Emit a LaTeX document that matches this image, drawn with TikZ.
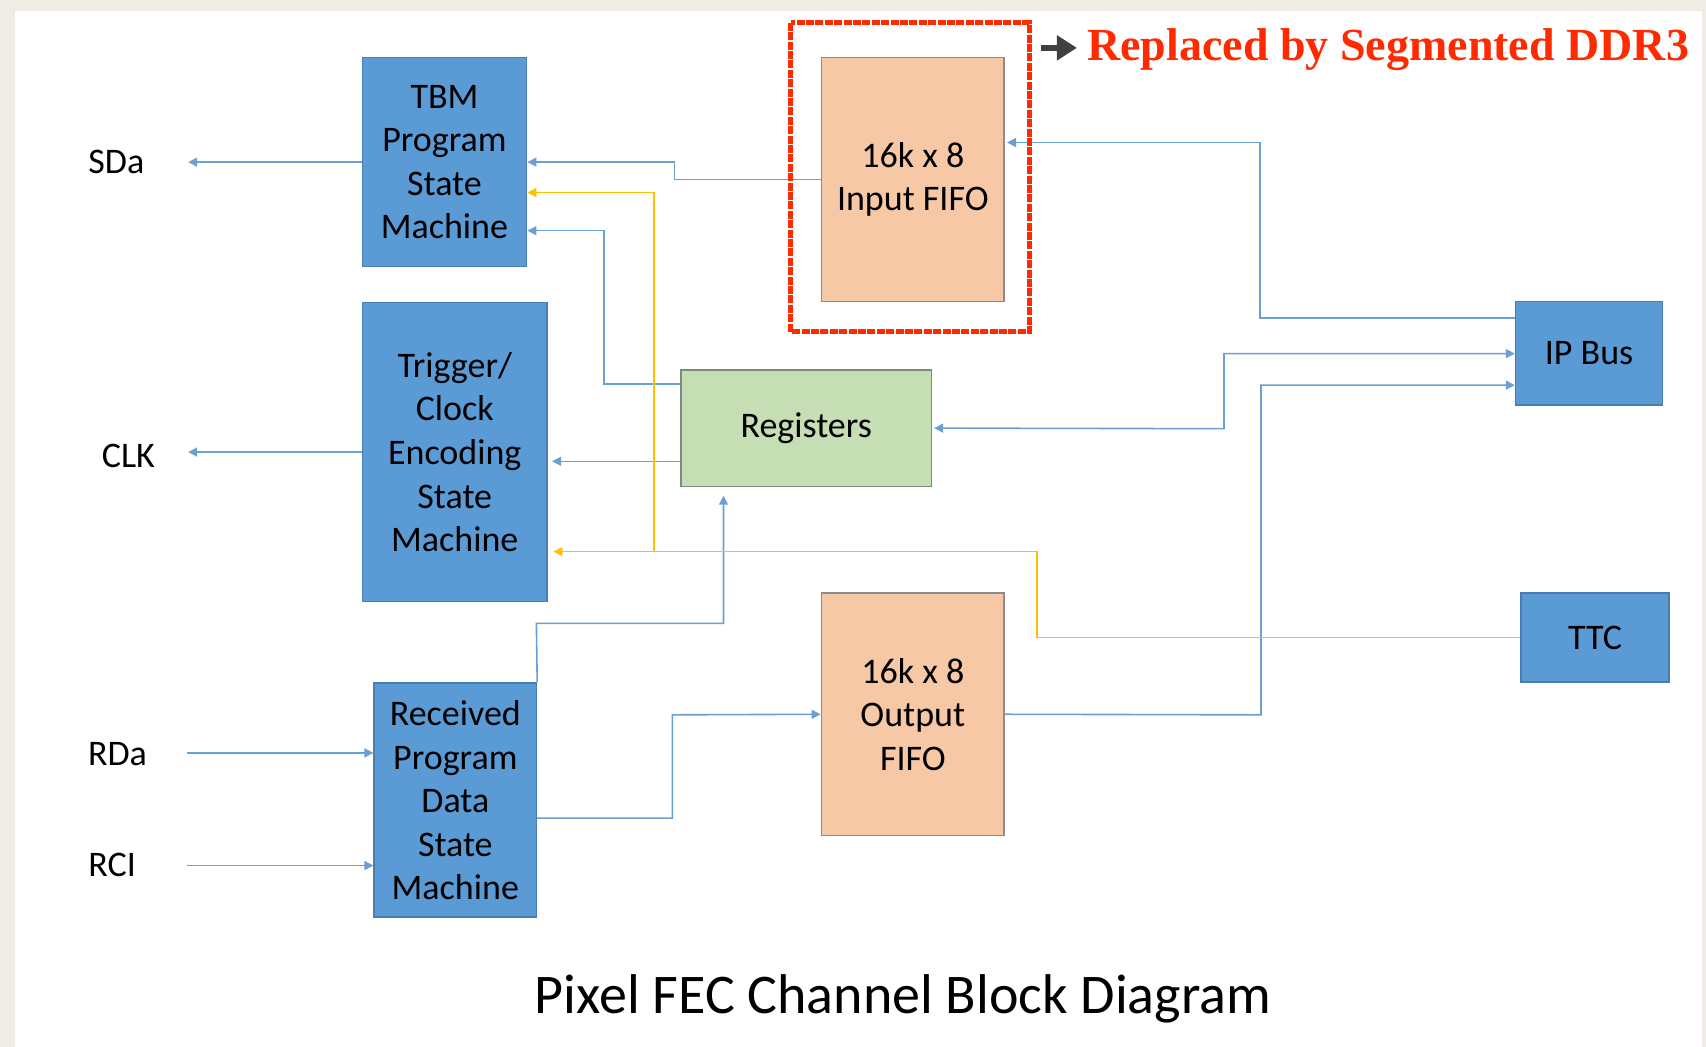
\documentclass[tikz,border=0pt]{standalone}
\usepackage{fontspec}
\setmainfont{Carlito}
\newfontfamily\notefont{Liberation Serif}
\usetikzlibrary{arrows.meta}

\definecolor{pagebg}{HTML}{EFECE6}
\definecolor{blockblue}{HTML}{5B9BD5}
\definecolor{blockblueedge}{HTML}{4A7EB0}
\definecolor{fifofill}{HTML}{F6C8A6}
\definecolor{fifoedge}{HTML}{8C8C8C}
\definecolor{regfill}{HTML}{C5DEB3}
\definecolor{regedge}{HTML}{7C8C7C}
\definecolor{wireblue}{HTML}{6A9FD4}
\definecolor{wireyellow}{HTML}{FFC000}
\definecolor{notered}{HTML}{FF2A00}
\definecolor{notegray}{HTML}{404040}

\begin{document}
\begin{tikzpicture}[x=0.544pt, y=-0.544pt,
  boxsize/.style 2 args={minimum width=#1*0.544pt, minimum height=#2*0.544pt},
  blocktext/.style={font=\fontsize{18}{21.8}\selectfont, align=center, text=black, inner sep=0pt},
  smblock/.style={blocktext, rectangle, fill=blockblue, draw=blockblueedge, line width=0.8pt},
  fifoblock/.style={blocktext, rectangle, fill=fifofill, draw=fifoedge, line width=0.8pt},
  regblock/.style={blocktext, rectangle, fill=regfill, draw=regedge, line width=0.8pt},
  portlabel/.style={font=\fontsize{18}{21.8}\selectfont, text=black, inner sep=0pt},
  tip/.style={-{Triangle[length=4.5pt,width=4.5pt]}},
  bitip/.style={{Triangle[length=4.5pt,width=4.5pt]}-{Triangle[length=4.5pt,width=4.5pt]}},
  wire/.style={draw=wireblue, line width=0.8pt, fill=none},
  ywire/.style={draw=wireyellow, line width=0.8pt, fill=none},
]

% page frame
\fill[pagebg] (0,0) rectangle (1568,962);
\fill[white] (14,10) rectangle (1564,962);
\useasboundingbox (0,0) rectangle (1568,962);

% blocks
\node[smblock, boxsize={151}{192}] (tbm) at (408.5,149) {TBM\\Program\\State\\Machine};
\node[fifoblock, boxsize={168}{224}] (fifoin) at (839,165) {16k x 8\\Input FIFO};
\node[smblock, boxsize={170}{275}] (trig) at (418,415.5) {Trigger/\\Clock\\Encoding\\State\\Machine};
\node[regblock, boxsize={230}{107}] (regs) at (741,393.5) {Registers};
\node[smblock, boxsize={135}{95}] (ipbus) at (1460.5,324.5) {IP Bus};
\node[smblock, boxsize={136}{82}] (ttc) at (1466,586) {TTC};
\node[fifoblock, boxsize={168}{223}] (fifoout) at (839,656.5) {16k x 8\\Output\\FIFO};
\node[smblock, boxsize={149}{215}] (rec) at (418.5,735.5) {Received\\Program\\Data\\State\\Machine};

% external ports
\node[portlabel] (sda) at (107,149) {SDa};
\node[portlabel] (clk) at (118,419) {CLK};
\node[portlabel] (rda) at (108,693) {RDa};
\node[portlabel] (rci) at (103,795) {RCI};
\coordinate (sdaend) at (173,149);
\coordinate (clkend) at (173,415.5);
\coordinate (rdastart) at (172,692);
\coordinate (rcistart) at (172,795.5);

% port connections
\draw[wire, {Triangle[length=4.5pt,width=4.5pt]}-] (sdaend) -- (tbm.west);
\draw[wire, {Triangle[length=4.5pt,width=4.5pt]}-] (clkend) -- (trig.west);
\draw[wire, tip] (rdastart) -- (rec.west |- rdastart);
\draw[wire, tip] (rcistart) -- (rec.west |- rcistart);

% input FIFO to TBM
\draw[wire, tip] (fifoin.west) -- (620,165) -- (620,149) -- (tbm.east);

% registers to TBM and trigger
\draw[wire, tip] (regs.west |- 0,353) -- (555,353) -- (555,212) -- (tbm.east |- 0,212);
\draw[wire, tip, shorten >=2pt] (regs.west |- 0,424) -- (trig.east |- 0,424);

% IP Bus links
\draw[wire, tip, shorten >=1pt] (ipbus.west |- 0,292) -- (1158,292) -- (1158,131) -- (fifoin.east |- 0,131);
\draw[wire, bitip, shorten <=1pt] (regs.east) -- (1125,394) -- (1125,325) -- (ipbus.west |- 0,325);
\draw[wire, tip] (fifoout.east) -- (1159,657) -- (1159,354) -- (ipbus.west |- 0,354);

% received data paths
\draw[wire, tip] (rec.east |- 0,752) -- (618,752) -- (618,657) -- (fifoout.west);
\draw[wire, tip, shorten >=4.3pt] (rec.north east) -- (493,573) -- (665,573) -- (regs.south -| 665,0);

% TTC distribution
\coordinate (ysplit) at (601,507);
\draw[ywire, tip, shorten >=2.7pt] (ttc.west) -- (953,586) -- (953,507) -- (trig.east |- 0,507);
\draw[ywire, tip] (ysplit) -- (601,177) -- (tbm.east |- 0,177);

% replacement note
\draw[notered, line width=2.5pt, dash pattern=on 4pt off 0.7pt] (727,21) rectangle (946,305);
\coordinate (notetail) at (957,44);
\node[font=\notefont\bfseries\fontsize{23}{26}\selectfont, text=notered, anchor=base west, inner sep=0pt] (note) at (999,56) {Replaced by Segmented DDR3};
\draw[notegray, line width=2.8pt, -{Triangle[length=10pt,width=12pt]}] (notetail) -- ([xshift=-5pt]note.west |- notetail);

% caption
\node[font=\fontsize{28}{32}\selectfont, inner sep=0pt] (caption) at (830,918) {Pixel FEC Channel Block Diagram};

\end{tikzpicture}
\end{document}
